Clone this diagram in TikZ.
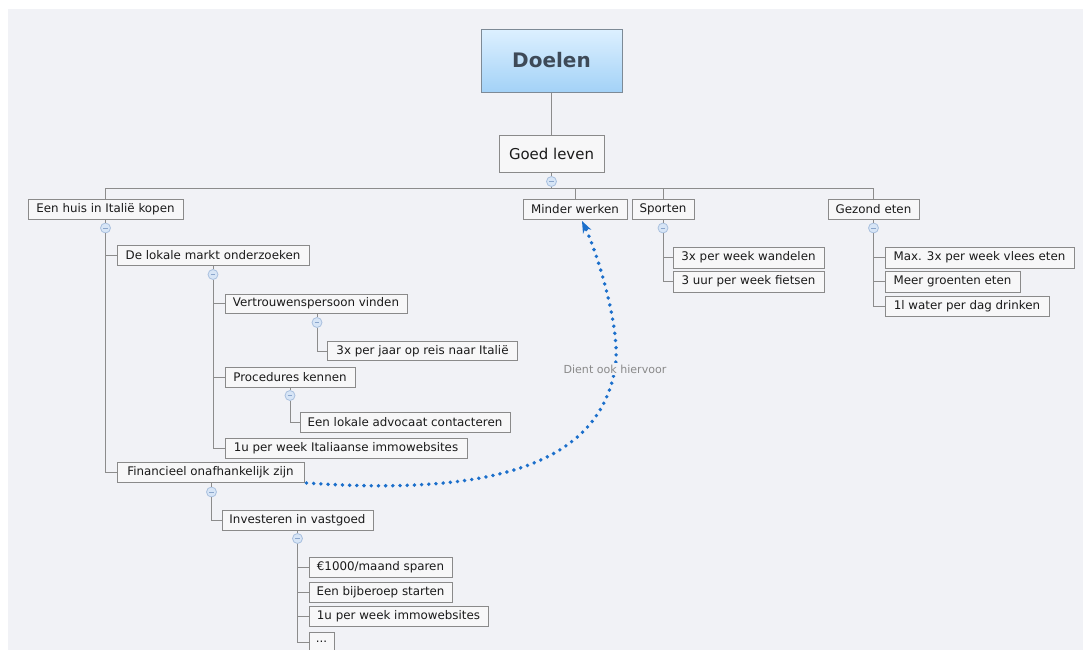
\documentclass[tikz,border=0pt]{standalone}
\usepackage{fontspec}
\setmainfont{DejaVu Sans}
\usetikzlibrary{arrows.meta,calc}
\definecolor{bg}{HTML}{F1F2F6}
\definecolor{boxfill}{HTML}{F7F7F8}
\definecolor{boxline}{HTML}{8A8A8A}
\definecolor{conn}{HTML}{8C8C8C}
\definecolor{txt}{HTML}{1A1A1A}
\definecolor{roottop}{HTML}{DDF0FF}
\definecolor{rootbot}{HTML}{A3D2F7}
\definecolor{rootline}{HTML}{7D8A96}
\definecolor{roottxt}{HTML}{3E4A58}
\definecolor{circfill}{HTML}{D7E5F6}
\definecolor{circline}{HTML}{A9C0DE}
\definecolor{minuscol}{HTML}{8BA6CC}
\definecolor{linkblue}{HTML}{1B6FCB}
\definecolor{lbltxt}{HTML}{8A8A8A}
\begin{document}
\begin{tikzpicture}[x=0.75pt,y=-0.75pt,
  box/.style={draw=boxline, fill=boxfill, line width=0.75pt, inner sep=0pt,
    minimum height=15pt, text=txt, font=\fontsize{8.9}{10}\selectfont},
  w/.style={minimum width=#1*0.75pt},
  h/.style={minimum height=#1*0.75pt},
  circ/.style={circle, draw=circline, fill=circfill, line width=0.6pt,
    minimum size=7.5pt, inner sep=0pt,
    path picture={\draw[minuscol, line width=0.6pt]
      ([xshift=-1.8pt]path picture bounding box.center) --
      ([xshift=1.8pt]path picture bounding box.center);}},
  conn/.style={draw=conn, line width=0.75pt},
  link/.style={draw=linkblue, line width=2.9pt, line cap=round,
    dash pattern=on 0pt off 5.4pt},
  lbl/.style={fill=bg, inner sep=1.5pt, text=lbltxt, font=\fontsize{8.3}{10}\selectfont}
]
\useasboundingbox (0,0) rectangle (1083,650);
\fill[white] (0,0) rectangle (1083,650);
\fill[bg] (8,9) rectangle (1083,650);

% root
\node[draw=rootline, line width=0.75pt, top color=roottop, bottom color=rootbot,
  w=141, h=63, inner sep=0pt, text=roottxt,
  font=\fontsize{15}{18}\selectfont\bfseries] (doelen) at (551.5,60.5) {Doelen};
\node[box, w=105, h=37, font=\fontsize{11.2}{13}\selectfont] (goed) at (551.5,153.5) {Goed leven};

% level 1
\node[box, w=155, h=20] (een) at (105.5,209.5) {Een huis in Italië kopen};
\node[box, w=104, h=20] (min) at (575,209.5) {Minder werken};
\node[box, w=62, h=20] (spo) at (663,209.5) {Sporten};
\node[box, w=91, h=20] (gez) at (873.5,209.5) {Gezond eten};

% Een huis subtree
\node[box, w=192, h=20] (lok) at (213,255) {De lokale markt onderzoeken};
\node[box, w=182, h=19] (ver) at (316,303.5) {Vertrouwenspersoon vinden};
\node[box, w=190, h=19] (reis) at (422.5,351) {3x per jaar op reis naar Italië};
\node[box, w=130, h=20] (pro) at (290,377) {Procedures kennen};
\node[box, w=210, h=20] (adv) at (405,422) {Een lokale advocaat contacteren};
\node[box, w=242, h=20] (ita) at (346,448) {1u per week Italiaanse immowebsites};
\node[box, w=187, h=20] (fin) at (210.5,472.5) {Financieel onafhankelijk zijn};
\node[box, w=151, h=20] (inv) at (297.5,520) {Investeren in vastgoed};
\node[box, w=143, h=20] (spa) at (380.5,567) {€1000/maand sparen};
\node[box, w=143, h=20] (bij) at (380.5,592) {Een bijberoep starten};
\node[box, w=179, h=20] (imm) at (398.5,616.5) {1u per week immowebsites};
\node[box, w=25, h=20] (dots) at (321.5,642) {...};

% Sporten subtree
\node[box, w=151, h=21] (wan) at (748.5,257.5) {3x per week wandelen};
\node[box, w=151, h=21] (fie) at (748.5,281.5) {3 uur per week fietsen};

% Gezond subtree
\node[box, w=189, h=21] (vle) at (979.5,257.5) {Max. 3x per week vlees eten};
\node[box, w=135, h=21] (gro) at (952.5,281.5) {Meer groenten eten};
\node[box, w=164, h=20] (wat) at (967,306) {1l water per dag drinken};

% collapse circles
\node[circ] (cG) at ($(goed.south)+(0,9)$) {};
\node[circ] (cE) at ($(een.south)+(0,8)$) {};
\node[circ] (cL) at ($(lok.south)+(0,9)$) {};
\node[circ] (cV) at ($(ver.south)+(1,9)$) {};
\node[circ] (cP) at ($(pro.south)+(0,8)$) {};
\node[circ] (cF) at ($(fin.south)+(1,9)$) {};
\node[circ] (cI) at ($(inv.south)+(0,8)$) {};
\node[circ] (cS) at ($(spo.south)+(0,8)$) {};
\node[circ] (cZ) at ($(gez.south)+(0,8)$) {};

% connectors
\coordinate (bus) at (551.5,188);
\draw[conn] (doelen.south) -- (goed.north);
\draw[conn] (goed.south) -- (cG.north);
\draw[conn] (cG.south) -- (bus);
\draw[conn] (een.north) |- (bus);
\draw[conn] (gez.north) |- (bus);
\draw[conn] (min.north) -- (min.north |- bus);
\draw[conn] (spo.north) -- (spo.north |- bus);

\draw[conn] (een.south) -- (cE.north);
\draw[conn] (cE.south) |- (lok.west);
\draw[conn] (cE.south) |- (fin.west);

\draw[conn] (lok.south) -- (cL.north);
\draw[conn] (cL.south) |- (ver.west);
\draw[conn] (cL.south) |- (pro.west);
\draw[conn] (cL.south) |- (ita.west);

\draw[conn] (ver.south -| cV) -- (cV.north);
\draw[conn] (cV.south) |- (reis.west);
\draw[conn] (pro.south) -- (cP.north);
\draw[conn] (cP.south) |- (adv.west);

\draw[conn] (fin.south -| cF) -- (cF.north);
\draw[conn] (cF.south) |- (inv.west);
\draw[conn] (inv.south) -- (cI.north);
\draw[conn] (cI.south) |- (spa.west);
\draw[conn] (cI.south) |- (bij.west);
\draw[conn] (cI.south) |- (imm.west);
\draw[conn] (cI.south) |- (dots.west);

\draw[conn] (spo.south) -- (cS.north);
\draw[conn] (cS.south) |- (wan.west);
\draw[conn] (cS.south) |- (fie.west);

\draw[conn] (gez.south) -- (cZ.north);
\draw[conn] (cZ.south) |- (vle.west);
\draw[conn] (cZ.south) |- (gro.west);
\draw[conn] (cZ.south) |- (wat.west);

% dotted link
\coordinate (start) at ($(fin.south east)+(2,0)$);
\coordinate (mid) at (615,369);
\coordinate (tip) at ($(min.south)+(7,1)$);
\draw[link, -{Stealth[length=9pt, width=7pt, line width=0pt]}]
  (start) .. controls (480,495) and (597,470) .. (mid)
  .. controls (622,330) and (596,250) .. (tip);
\node[lbl] (lab) at (mid) {Dient ook hiervoor};
\end{tikzpicture}
\end{document}
